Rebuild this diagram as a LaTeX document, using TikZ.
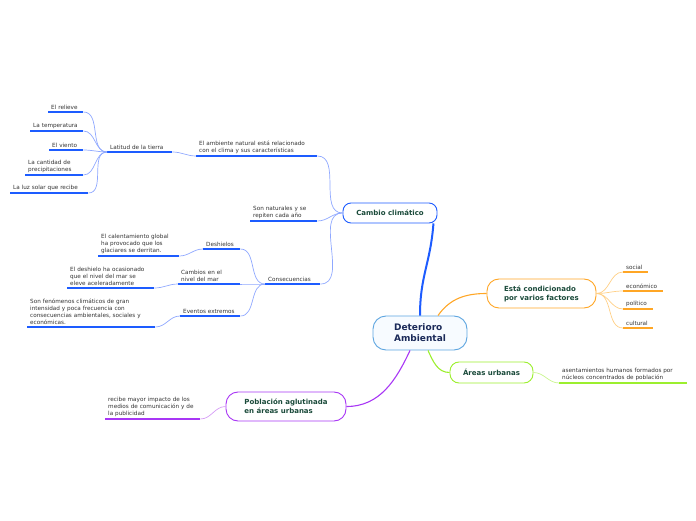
\documentclass[tikz,border=0pt]{standalone}
\usepackage{fontspec}
\setmainfont{DejaVu Sans}
\usetikzlibrary{positioning}
\definecolor{ccblue}{HTML}{1D5CFF}
\definecolor{cclight}{HTML}{8FA8FF}
\definecolor{ecorange}{HTML}{FFA625}
\definecolor{eclight}{HTML}{FFCF85}
\definecolor{augreen}{HTML}{9CEF2E}
\definecolor{aulight}{HTML}{C8F58C}
\definecolor{papurple}{HTML}{A836F5}
\definecolor{palight}{HTML}{D59CF5}
\definecolor{dtborder}{HTML}{5DA5E0}
\definecolor{dtfill}{HTML}{F7FBFF}
\definecolor{dttext}{HTML}{1B2A59}
\definecolor{topictext}{HTML}{1A4A3A}
\definecolor{leaftext}{HTML}{333333}

\tikzset{
  topic/.style={draw, fill=white, line width=0.9pt, rounded corners=#1,
    align=left, inner sep=0pt, text=topictext,
    font=\fontsize{7}{9}\selectfont\bfseries},
  leaf/.style 2 args={anchor=south west, inner xsep=3pt, inner ysep=2.5pt,
    text width=#1, align=left, text=leaftext,
    font=\fontsize{5.7}{7}\selectfont,
    append after command={(\tikzlastnode.south west) edge[line width=1.3pt, #2]
      (\tikzlastnode.south east)}},
  twig/.style={draw=#1, line width=0.7pt},
}

\begin{document}
\begin{tikzpicture}[x=1pt, y=1pt]
  \useasboundingbox (0,0) rectangle (696,520);

  % Define nodes
  \node[draw=dtborder, fill=dtfill, line width=0.9pt, rounded corners=13pt,
    minimum width=94pt, minimum height=34pt, align=left, text=dttext,
    font=\fontsize{9}{11}\selectfont\bfseries] (dt) at (420,187) {Deterioro\\Ambiental};
  \node[topic=8pt, draw=ccblue, minimum width=94pt, minimum height=20pt] (cc) at (390,307) {Cambio climático};
  \node[topic=12pt, draw=ecorange, minimum width=109pt, minimum height=29pt] (ec) at (541.5,226.5) {Está condicionado\\por varios factores};
  \node[topic=9pt, draw=augreen, minimum width=83pt, minimum height=21pt] (au) at (491.5,147.5) {Áreas urbanas};
  \node[topic=12pt, draw=papurple, minimum width=120pt, minimum height=29pt] (pa) at (286,113.5) {Población aglutinada\\en áreas urbanas};

  % Cambio climatico
  \node[leaf={115pt}{ccblue}] (amb) at (196,364) {El ambiente natural está relacionado\\con el clima y sus características};
  \node[leaf={61pt}{ccblue}] (son) at (250,299) {Son naturales y se\\repiten cada año};
  \node[leaf={49pt}{ccblue}] (cons) at (265,236) {Consecuencias};
  \node[leaf={59pt}{ccblue}] (lat) at (107,368) {Latitud de la tierra};
  \node[leaf={29pt}{ccblue}] (rel) at (48,408) {El relieve};
  \node[leaf={47pt}{ccblue}] (temp) at (30,389) {La temperatura};
  \node[leaf={28pt}{ccblue}] (vien) at (49,370) {El viento};
  \node[leaf={52pt}{ccblue}] (prec) at (25,345) {La cantidad de\\precipitaciones};
  \node[leaf={72pt}{ccblue}] (luz) at (10,327) {La luz solar que recibe};
  \node[leaf={31pt}{ccblue}] (desh) at (203,271) {Deshielos};
  \node[leaf={56pt}{ccblue}] (camb) at (178,236) {Cambios en el\\nivel del mar};
  \node[leaf={54pt}{ccblue}] (even) at (180,204) {Eventos extremos};
  \node[leaf={75pt}{ccblue}] (calent) at (98,264) {El calentamiento global\\ha provocado que los\\glaciares se derritan.};
  \node[leaf={81pt}{ccblue}] (nivel) at (67,232) {El deshielo ha ocasionado\\que el nivel del mar se\\eleve aceleradamente};
  \node[leaf={122pt}{ccblue}] (feno) at (27,193) {Son fenómenos climáticos de gran\\intensidad y poca frecuencia con\\consecuencias ambientales, sociales y\\económicas.};

  % Factores
  \node[leaf={19pt}{ecorange}] (social) at (623,248) {social};
  \node[leaf={34pt}{ecorange}] (econ) at (623,229) {económico};
  \node[leaf={24pt}{ecorange}] (poli) at (623,211) {político};
  \node[leaf={24pt}{ecorange}] (cult) at (623,192) {cultural};

  % Areas urbanas y poblacion
  \node[leaf={122pt}{augreen}] (asen) at (559,137) {asentamientos humanos formados por\\núcleos concentrados de población};
  \node[leaf={89pt}{papurple}] (imp) at (105,101) {recibe mayor impacto de los\\medios de comunicación y de\\la publicidad};

  % Connectors
  \draw[ccblue, line width=2pt] (dt.north) .. controls +(0,40) and +(-3,-40) .. ([xshift=-4pt]cc.south east);
  \draw[ecorange, line width=1.1pt] ([xshift=18pt]dt.north) to[out=55,in=180] (ec.west);
  \draw[augreen, line width=1.1pt] ([xshift=8pt]dt.south) to[out=-65,in=180] (au.west);
  \draw[papurple, line width=1.1pt] ([xshift=-10pt]dt.south) to[out=-115,in=0] (pa.east);

  \draw[twig=cclight] (cc.west) to[out=180,in=0] (amb.south east);
  \draw[twig=cclight] (cc.west) to[out=180,in=0] (son.south east);
  \draw[twig=cclight] (cc.west) to[out=180,in=0] (cons.south east);
  \draw[twig=cclight] (amb.south west) to[out=180,in=0] (lat.south east);
  \draw[twig=cclight] (lat.south west) to[out=180,in=0] (rel.south east);
  \draw[twig=cclight] (lat.south west) to[out=180,in=0] (temp.south east);
  \draw[twig=cclight] (lat.south west) to[out=180,in=0] (vien.south east);
  \draw[twig=cclight] (lat.south west) to[out=180,in=0] (prec.south east);
  \draw[twig=cclight] (lat.south west) to[out=180,in=0] (luz.south east);
  \draw[twig=cclight] (cons.south west) to[out=180,in=0] (desh.south east);
  \draw[twig=cclight] (cons.south west) to[out=180,in=0] (camb.south east);
  \draw[twig=cclight] (cons.south west) to[out=180,in=0] (even.south east);
  \draw[twig=cclight] (desh.south west) to[out=180,in=0] (calent.south east);
  \draw[twig=cclight] (camb.south west) to[out=180,in=0] (nivel.south east);
  \draw[twig=cclight] (even.south west) to[out=180,in=0] (feno.south east);

  \draw[twig=eclight] (ec.east) to[out=0,in=180] (social.south west);
  \draw[twig=eclight] (ec.east) to[out=0,in=180] (econ.south west);
  \draw[twig=eclight] (ec.east) to[out=0,in=180] (poli.south west);
  \draw[twig=eclight] (ec.east) to[out=0,in=180] (cult.south west);
  \draw[twig=aulight] (au.east) to[out=0,in=180] (asen.south west);
  \draw[twig=palight] (pa.west) to[out=180,in=0] (imp.south east);
\end{tikzpicture}
\end{document}
